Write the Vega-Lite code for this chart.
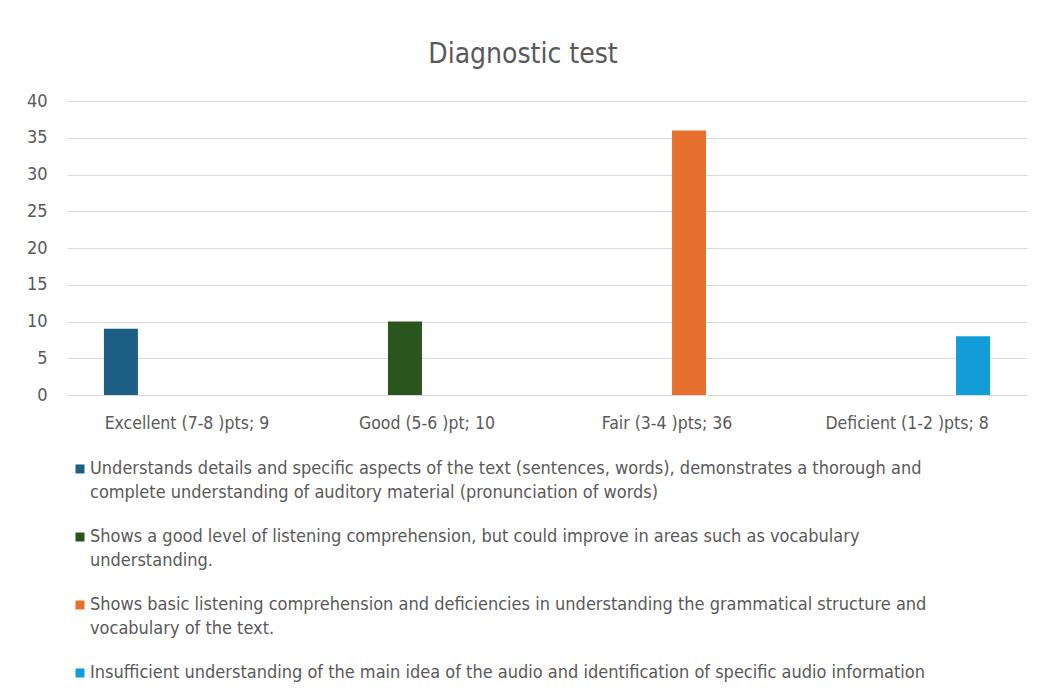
{
  "$schema": "https://vega.github.io/schema/vega-lite/v6.json",
  "width": 960,
  "height": 294,
  "autosize": {"type": "none"},
  "padding": {"left": 67, "top": 101, "right": 12, "bottom": 299},
  "background": "white",
  "title": {
    "text": "Diagnostic test",
    "fontSize": 28,
    "font": "Liberation Sans Narrow, DejaVu Sans Condensed, Roboto Condensed, Liberation Sans",
    "fontWeight": "normal",
    "color": "#595959",
    "anchor": "middle",
    "baseline": "alphabetic",
    "offset": 1,
    "dx": -24
  },
  "data": {
    "values": [
      {"category": "Excellent (7-8 )pts; 9", "level": "Understands details and specific aspects of the text (sentences, words), demonstrates a thorough and complete understanding of auditory material (pronunciation of words)", "value": 9},
      {"category": "Good (5-6 )pt; 10", "level": "Shows a good level of listening comprehension, but could improve in areas such as vocabulary understanding.", "value": 10},
      {"category": "Fair (3-4 )pts; 36", "level": "Shows basic listening comprehension and deficiencies in understanding the grammatical structure and vocabulary of the text.", "value": 36},
      {"category": "Deficient (1-2 )pts; 8", "level": "Insufficient understanding of the main idea of the audio and identification of specific audio information", "value": 8}
    ]
  },
  "mark": {"type": "bar"},
  "encoding": {
    "x": {
      "field": "category",
      "type": "nominal",
      "sort": null,
      "scale": {"paddingInner": 0.267, "paddingOuter": 0.133},
      "axis": {
        "title": null,
        "labelAngle": 0,
        "labelFontSize": 17.5,
        "labelFont": "Liberation Sans Narrow, DejaVu Sans Condensed, Roboto Condensed, Liberation Sans",
        "labelColor": "#595959",
        "ticks": false,
        "domainColor": "#D9D9D9",
        "labelPadding": 19,
        "labelLimit": 300
      }
    },
    "xOffset": {
      "field": "level",
      "type": "nominal",
      "sort": null,
      "scale": {"paddingInner": 0.227, "paddingOuter": 0.1135}
    },
    "y": {
      "field": "value",
      "type": "quantitative",
      "scale": {"domain": [0, 40]},
      "axis": {
        "title": null,
        "values": [0, 5, 10, 15, 20, 25, 30, 35, 40],
        "labelFontSize": 18,
        "labelFont": "Liberation Sans Narrow, DejaVu Sans Condensed, Roboto Condensed, Liberation Sans",
        "labelColor": "#595959",
        "ticks": false,
        "domain": false,
        "gridColor": "#D9D9D9",
        "labelPadding": 20
      }
    },
    "color": {
      "field": "level",
      "type": "nominal",
      "sort": null,
      "scale": {"range": ["#1D5E84", "#2A561D", "#E8702F", "#139DD8"]},
      "legend": {
        "orient": "none",
        "legendX": 4,
        "legendY": 359,
        "direction": "vertical",
        "title": null,
        "symbolType": "square",
        "symbolSize": 81,
        "symbolStrokeWidth": 0,
        "labelFontSize": 18,
        "labelFont": "Liberation Sans Narrow, DejaVu Sans Condensed, Roboto Condensed, Liberation Sans",
        "labelColor": "#595959",
        "labelLimit": 950,
        "labelOffset": 1,
        "labelBaseline": "top",
        "rowPadding": 26,
        "encode": {"labels": {"update": {"lineHeight": {"value": 24}, "dy": {"value": -9}}}},
        "labelExpr": "indexof(datum.label, 'Understands') == 0 ? ['Understands details and specific aspects of the text (sentences, words), demonstrates a thorough and', 'complete understanding of auditory material (pronunciation of words)'] : indexof(datum.label, 'Shows a good') == 0 ? ['Shows a good level of listening comprehension, but could improve in areas such as vocabulary', 'understanding.'] : indexof(datum.label, 'Shows basic') == 0 ? ['Shows basic listening comprehension and deficiencies in understanding the grammatical structure and', 'vocabulary of the text.'] : datum.label"
      }
    }
  },
  "config": {
    "view": {"stroke": null}
  }
}
